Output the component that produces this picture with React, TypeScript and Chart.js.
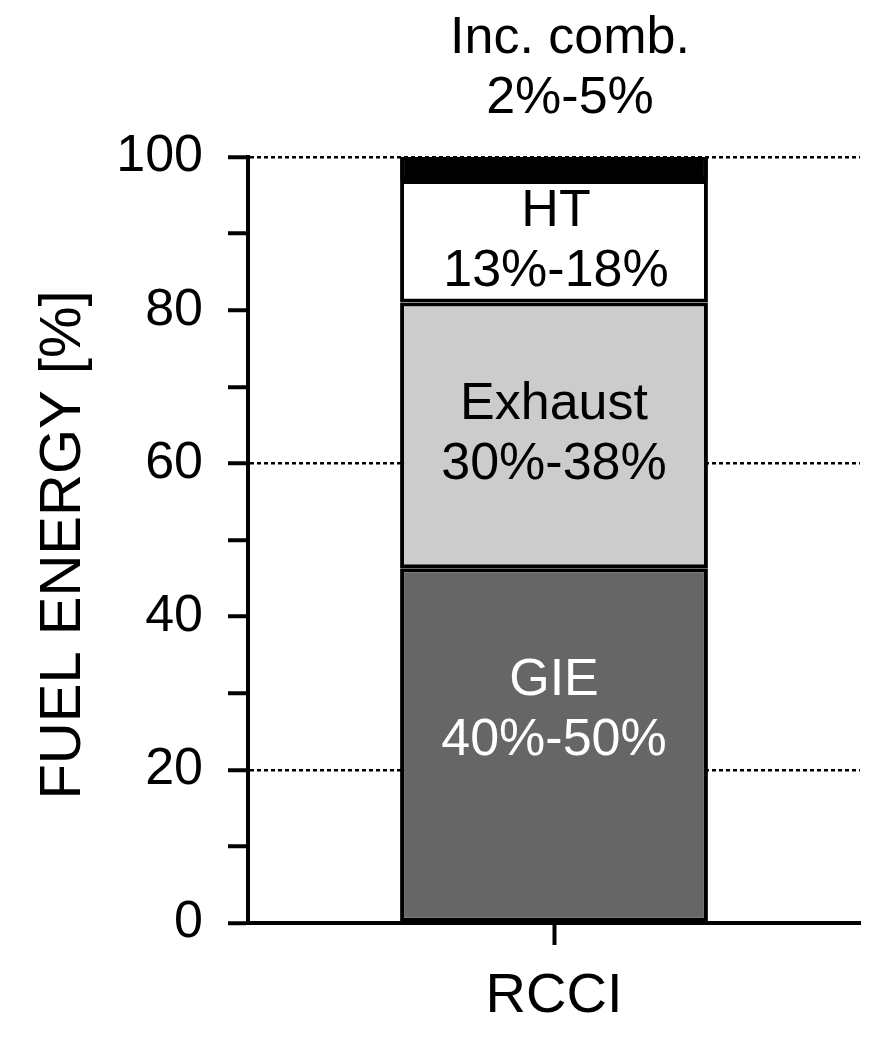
import React, { useEffect, useRef } from 'react';
import { Chart, registerables } from 'chart.js';

Chart.register(...registerables);

// ---- data ----
const categories = ['RCCI'];
const seriesNames = ['GIE', 'Exhaust', 'HT', 'Inc. comb.'];
const gieValues = [46.3];
const exhaustValues = [34.7];
const htValues = [16.0];
const incCombValues = [3.0];
const rangeLabels = ['40%-50%', '30%-38%', '13%-18%', '2%-5%'];
const yLabelledTicks = [0, 20, 40, 60, 80, 100];
const gridValues = [20, 60, 100];
const yTitle = 'FUEL ENERGY [%]';

// ---- styling / layout (not data) ----
const seriesColors = ['#666666', '#cccccc', '#ffffff', '#000000'];
const labelTextColors = ['#ffffff', '#000000', '#000000', '#000000'];
const labelCenterValues = [27.7, 63.7, 89, 111.5];
const labelOffsetsX = [0, 0, 2, 16];
const FONT = '"Liberation Sans", Arial, sans-serif';

const labelPlugin = {
  id: 'segmentLabels',
  afterDraw(chart: any) {
    const ctx = chart.ctx;
    const yScale = chart.scales.y;
    ctx.save();
    ctx.font = `52px ${FONT}`;
    ctx.textAlign = 'center';
    ctx.textBaseline = 'middle';
    chart.data.datasets.forEach((ds: any, i: number) => {
      const meta = chart.getDatasetMeta(i);
      const bar = meta.data[0];
      if (!bar) return;
      const cx = bar.x + labelOffsetsX[i];
      const cy = yScale.getPixelForValue(labelCenterValues[i]);
      ctx.fillStyle = labelTextColors[i];
      ctx.fillText(ds.label, cx, cy - 30);
      ctx.fillText(rangeLabels[i], cx, cy + 30);
    });
    // y axis title
    ctx.font = `58px ${FONT}`;
    ctx.fillStyle = '#000000';
    ctx.translate(64, (yScale.top + yScale.bottom) / 2 + 5);
    ctx.rotate(-Math.PI / 2);
    ctx.fillText(yTitle, 0, 0);
    ctx.restore();
  },
};

export default function App() {
  const canvasRef = useRef<HTMLCanvasElement | null>(null);

  useEffect(() => {
    document.body.style.margin = '0';
    const canvas = canvasRef.current;
    if (!canvas) return;
    const valueSets = [gieValues, exhaustValues, htValues, incCombValues];
    const chart = new Chart(canvas, {
      type: 'bar',
      data: {
        labels: categories,
        datasets: seriesNames.map((name, i) => ({
          label: name,
          data: valueSets[i],
          backgroundColor: seriesColors[i],
          borderColor: '#000000',
          borderWidth: 4,
          borderSkipped: false,
          barPercentage: 1,
          categoryPercentage: 0.503,
        })),
      },
      options: {
        animation: false,
        responsive: false,
        devicePixelRatio: 1,
        layout: { padding: { top: 157, right: 20, left: 0, bottom: 0 } },
        plugins: {
          legend: { display: false },
          tooltip: { enabled: false },
        },
        scales: {
          x: {
            type: 'category',
            stacked: true,
            offset: true,
            afterFit: (scale: any) => {
              scale.height = 140;
            },
            grid: {
              display: true,
              drawOnChartArea: false,
              offset: false,
              tickLength: 22,
              tickWidth: 4,
              tickColor: '#000000',
              color: '#000000',
            },
            border: { display: true, color: '#000000', width: 4 },
            ticks: {
              color: '#000000',
              font: { family: FONT, size: 56 },
              padding: 18,
            },
          },
          y: {
            stacked: true,
            min: 0,
            max: 100,
            afterFit: (scale: any) => {
              scale.width = 248;
            },
            ticks: {
              stepSize: 10,
              autoSkip: false,
              color: '#000000',
              font: { family: FONT, size: 52 },
              padding: 25,
              callback: (v: any) => (yLabelledTicks.includes(Number(v)) ? String(v) : ''),
            },
            grid: {
              color: (c: any) => (gridValues.includes(c.tick?.value) ? '#000000' : 'rgba(0,0,0,0)'),
              lineWidth: 2.5,
              tickColor: '#000000',
              tickWidth: 4,
              tickLength: 20,
              tickBorderDash: [],
              drawOnChartArea: true,
            },
            border: { display: true, color: '#000000', width: 4, dash: [4, 3] },
            title: { display: false },
          },
        },
      },
      plugins: [labelPlugin],
    });
    return () => chart.destroy();
  }, []);

  return (
    <div style={{ width: 880, height: 1063 }}>
      <canvas ref={canvasRef} width={880} height={1063} style={{ display: 'block' }} />
    </div>
  );
}
